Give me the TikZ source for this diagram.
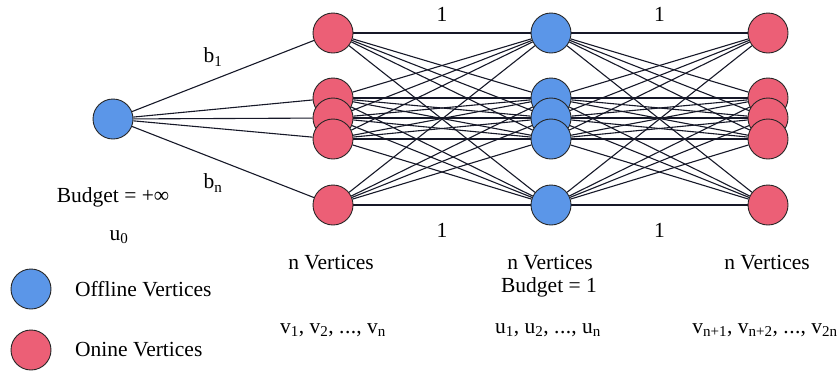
\documentclass[tikz,border=0pt]{standalone}
\usepackage{fontspec}
\setmainfont{Liberation Serif}
\usetikzlibrary{backgrounds}

\definecolor{offblue}{RGB}{91,150,232}
\definecolor{onred}{RGB}{236,95,118}
\definecolor{edgegray}{RGB}{22,24,40}

\tikzset{
  vert/.style={circle, draw=black!85, line width=0.9pt, minimum size=40pt, inner sep=0pt},
  offline/.style={vert, fill=offblue},
  online/.style={vert, fill=onred},
  edge/.style={draw=edgegray, line width=1.1pt},
  lbl/.style={font=\fontsize{21.5}{25}\selectfont, inner sep=1pt},
}
\newcommand{\vsub}[1]{\textsubscript{#1}}
\newcommand{\tdots}{.\kern0.5pt.\kern0.5pt.}

\begin{document}
\begin{tikzpicture}[x=1pt, y=-1pt, line join=round, line cap=round]
  \useasboundingbox (0,0) rectangle (837,376);
  \def\ys{33,98,118,139,205}
  % source vertex
  \node[offline] (u0) at (113,119) {};
  % three columns, top down so the lower circles lie over the upper ones
  \foreach \y [count=\i] in \ys {
    \node[online] (v\i) at (333,\y) {};
    \node[offline] (u\i) at (551,\y) {};
    \node[online] (w\i) at (768,\y) {};
  }
  % edges behind the vertices
  \begin{scope}[on background layer]
    \foreach \i in {1,...,5} {
      \draw[edge] (u0) -- (v\i);
      \foreach \j in {1,...,5} {
        \draw[edge] (v\i) -- (u\j);
        \draw[edge] (u\i) -- (w\j);
      }
    }
  \end{scope}
  % edge weights
  \path (v1) -- (u1) node[lbl, midway, yshift=19pt] (wt1) {1};
  \path (u1) -- (w1) node[lbl, midway, yshift=19pt] (wt2) {1};
  \path (v5) -- (u5) node[lbl, midway, yshift=-25pt] (wt3) {1};
  \path (u5) -- (w5) node[lbl, midway, yshift=-25pt] (wt4) {1};
  \node[lbl] (b1) at (213,57) {b\vsub{1}};
  \node[lbl] (bn) at (213,183) {b\vsub{n}};
  % captions
  \node[lbl] (budget0) at (113,197) {Budget = +∞};
  \node[lbl] (name0) at (119,237) {u\vsub{0}};
  \node[lbl] (cnt1) at (331,263) {n Vertices};
  \node[lbl] (cnt2) at (550,263) {n Vertices};
  \node[lbl] (cnt3) at (767,263) {n Vertices};
  \node[lbl] (budget1) at (549,287) {Budget = 1};
  \node[lbl] (names1) at (333,330) {v\vsub{1}, v\vsub{2}, \tdots, v\vsub{n}};
  \node[lbl] (names2) at (548,330) {u\vsub{1}, u\vsub{2}, \tdots, u\vsub{n}};
  \node[lbl] (names3) at (765,330) {v\vsub{n+1}, v\vsub{n+2}, \tdots, v\vsub{2n}};
  % legend
  \node[offline] (keyoff) at (31,289) {};
  \node[online] (keyon) at (31,350) {};
  \node[lbl, anchor=west] (keyofftext) at (74,289) {Offline Vertices};
  \node[lbl, anchor=west] (keyontext) at (74,350) {Onine Vertices};
\end{tikzpicture}
\end{document}
